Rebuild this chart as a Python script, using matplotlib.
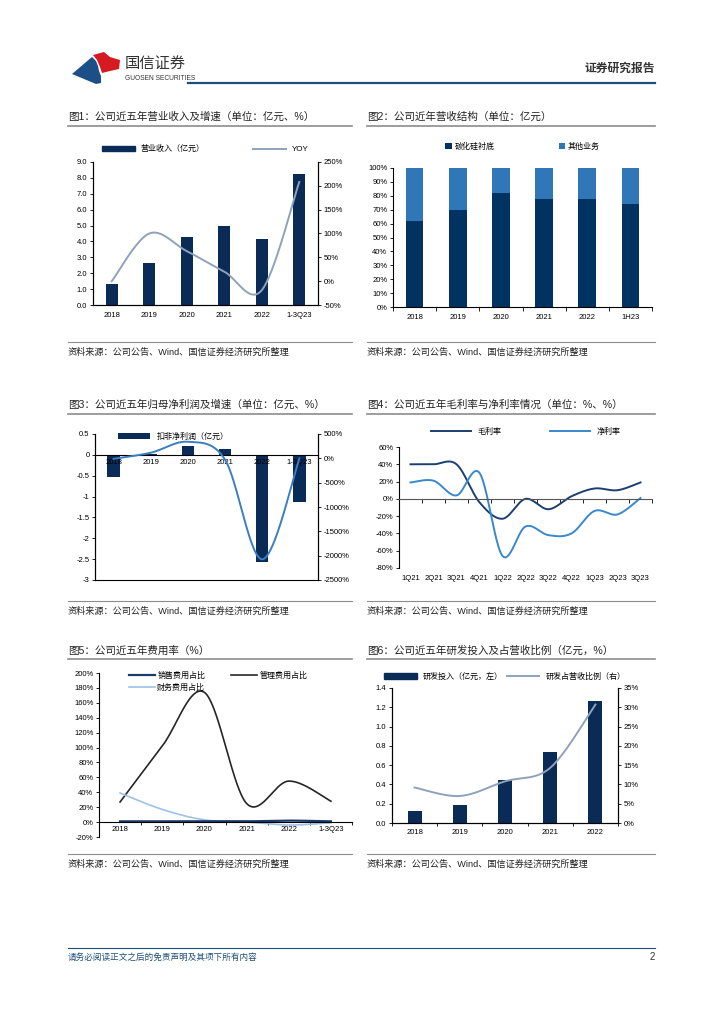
import matplotlib
matplotlib.use('Agg')
import matplotlib.pyplot as plt
import numpy as np
from matplotlib.lines import Line2D
from matplotlib.patches import Polygon, Patch
from matplotlib.ticker import FuncFormatter, MultipleLocator

plt.rcParams['font.family'] = ['Liberation Sans', 'Noto Sans CJK SC', 'DejaVu Sans']
plt.rcParams['axes.unicode_minus'] = False

## data read from the page
years = ['2018', '2019', '2020', '2021', '2022', '1-3Q23']
revenue = [1.35, 2.65, 4.25, 4.95, 4.15, 8.25]
revenue_yoy = [0, 100, 63, 20, -19, 208]

struct_years = ['2018', '2019', '2020', '2021', '2022', '1H23']
sic_share = [62, 69.5, 82, 78, 78, 74]
other_share = [38, 30.5, 18, 22, 22, 26]

profit = [-0.52, 0.03, 0.22, 0.13, -2.58, -1.13]
profit_yoy = [-10, 115, 340, -30, -2075, 0]

quarters = ['1Q21', '2Q21', '3Q21', '4Q21', '1Q22', '2Q22', '3Q22', '4Q22', '1Q23', '2Q23', '3Q23']
gross_margin = [40, 40, 40, -4, -23, 0, -12, 3, 12, 10, 19]
net_margin = [19, 21, 4, 30, -66, -32, -42, -40, -14, -18, 1]

sales_exp = [1, 1, 1, 1, 2, 1]
admin_exp = [27, 102, 174, 25, 55, 28]
fin_exp = [39, 17, 3, 0, -4, -1]

rd_years = ['2018', '2019', '2020', '2021', '2022']
rd_spend = [0.124, 0.19, 0.45, 0.736, 1.27]
rd_ratio = [9.2, 7.0, 10.8, 14.3, 30.7]

NAVY = '#0b2b57'
MID = '#3b7fc1'
GREYBLUE = '#8fa2bb'

W, H = 724, 1024
fig = plt.figure(figsize=(W / 100, H / 100), dpi=100)


def rect(x0, y0, x1, y1):
    return [x0 / W, 1 - y1 / H, (x1 - x0) / W, (y1 - y0) / H]


def hline(x0, x1, y, color, lw):
    fig.add_artist(Line2D([x0 / W, x1 / W], [1 - y / H, 1 - y / H], color=color, lw=lw))


def ftext(x, y, s, **kw):
    fig.text(x / W, 1 - y / H, s, va='center', **kw)


def smooth(xs, ys, n=40):
    # excel-like smoothed line (bezier through the points)
    x = np.asarray(xs, float)
    y = np.asarray(ys, float)
    px = np.concatenate([[x[0]], x, [x[-1]]])
    py = np.concatenate([[y[0]], y, [y[-1]]])
    t = np.linspace(0, 1, n)[:, None]
    pts = []
    for i in range(1, len(px) - 2):
        p0 = np.array([px[i - 1], py[i - 1]])
        p1 = np.array([px[i], py[i]])
        p2 = np.array([px[i + 1], py[i + 1]])
        p3 = np.array([px[i + 2], py[i + 2]])
        c1 = p1 + (p2 - p0) / 6
        c2 = p2 - (p3 - p1) / 6
        seg = ((1 - t) ** 3) * p1 + 3 * ((1 - t) ** 2) * t * c1 + 3 * (1 - t) * t ** 2 * c2 + t ** 3 * p2
        pts.append(seg)
    pts = np.vstack(pts)
    return pts[:, 0], pts[:, 1]


def style(ax, right=False):
    ax.spines['top'].set_visible(False)
    if not right:
        ax.spines['right'].set_visible(False)
    for s in ax.spines.values():
        s.set_linewidth(0.8)
    ax.tick_params(labelsize=5.5, length=2, width=0.6, pad=2)


pct = FuncFormatter(lambda v, p: '%d%%' % v)

# ---------------- header / footer ----------------
logo = fig.add_axes([0, 0, 1, 1], zorder=-1)
logo.set_xlim(0, W)
logo.set_ylim(H, 0)
logo.axis('off')
logo.add_patch(Polygon([(72, 74), (92, 57), (96, 61), (98, 66), (99, 71), (101, 76), (101, 83),
                        (96, 84), (84, 79)],
                       closed=True, color='#1c4f86', lw=0))
logo.add_patch(Polygon([(93, 55), (104, 52), (110, 57), (120, 60), (119, 69), (110, 71), (102, 73),
                        (100, 67), (97, 60)],
                       closed=True, color='#d61a22', lw=0))
ftext(125, 64, '国信证券', fontsize=11, color='#333333')
ftext(125, 78, 'GUOSEN SECURITIES', fontsize=4.8, color='#333333')
ftext(655, 69, '证券研究报告', fontsize=8.5, color='#333333', ha='right', fontweight='bold')
hline(188, 655, 83, '#1f4e79', 1.6)

hline(68, 655, 948, '#1f4e79', 0.8)
ftext(68, 957, '请务必阅读正文之后的免责声明及其项下所有内容', fontsize=6.2, color='#1f4e79', style='italic')
ftext(655, 957, '2', fontsize=7, color='#333333', ha='right')

titles = [
    (68, 117, '图1：公司近五年营业收入及增速（单位：亿元、%）'),
    (367, 117, '图2：公司近年营收结构（单位：亿元）'),
    (68, 405, '图3：公司近五年归母净利润及增速（单位：亿元、%）'),
    (367, 405, '图4：公司近五年毛利率与净利率情况（单位：%、%）'),
    (68, 651, '图5：公司近五年费用率（%）'),
    (367, 651, '图6：公司近五年研发投入及占营收比例（亿元，%）'),
]
for x, y, s in titles:
    ftext(x, y, s, fontsize=7.6, color='#222222')
for y in (126, 414, 659):
    hline(68, 352, y, '#8c8c8c', 1.2)
    hline(367, 655, y, '#8c8c8c', 1.2)
src = '资料来源：公司公告、Wind、国信证券经济研究所整理'
for yl, yt in ((342, 352), (601, 611), (854, 864)):
    hline(68, 352, yl, '#8c8c8c', 0.8)
    hline(367, 655, yl, '#8c8c8c', 0.8)
    ftext(68, yt, src, fontsize=6.6, color='#222222')
    ftext(367, yt, src, fontsize=6.6, color='#222222')

# ---------------- chart 1 ----------------
x = np.arange(len(years))
ax = fig.add_axes(rect(93, 162, 318, 305))
style(ax, right=True)
ax.bar(x, revenue, width=0.33, color=NAVY)
ax.set_xlim(-0.5, len(years) - 0.5)
ax.set_ylim(0, 9)
ax.yaxis.set_major_locator(MultipleLocator(1))
ax.yaxis.set_major_formatter(FuncFormatter(lambda v, p: '%.1f' % v))
ax.set_xticks(x)
ax.set_xticklabels(years)
ax.tick_params(axis='x', length=0, pad=5)
ax2 = ax.twinx()
style(ax2, right=True)
sx, sy = smooth(x, revenue_yoy)
ax2.plot(sx, sy, color=GREYBLUE, lw=1.4)
ax2.set_ylim(-50, 250)
ax2.yaxis.set_major_locator(MultipleLocator(50))
ax2.yaxis.set_major_formatter(pct)
ax.legend([Patch(color=NAVY), Line2D([], [], color=GREYBLUE, lw=1.4)], ['营业收入（亿元）', 'YOY'],
          loc='lower center', bbox_to_anchor=(0.5, 1.01), ncol=2, frameon=False, fontsize=5.8,
          handlelength=4, handleheight=0.7, columnspacing=6)

# ---------------- chart 2 ----------------
x = np.arange(len(struct_years))
ax = fig.add_axes(rect(393, 168, 652, 307))
style(ax)
ax.bar(x, sic_share, width=0.41, color='#003262', label='碳化硅衬底')
ax.bar(x, other_share, bottom=sic_share, width=0.41, color='#3077b8', label='其他业务')
ax.set_xlim(-0.5, len(struct_years) - 0.5)
ax.set_ylim(0, 100)
ax.yaxis.set_major_locator(MultipleLocator(10))
ax.yaxis.set_major_formatter(pct)
ax.set_xticks(x)
ax.set_xticklabels(struct_years)
ax.set_xticks(np.arange(len(struct_years) + 1) - 0.5, minor=True)
ax.tick_params(axis='x', which='major', length=0, pad=5)
ax.tick_params(axis='x', which='minor', length=3, width=0.6)
ax.legend(loc='lower center', bbox_to_anchor=(0.5, 1.07), ncol=2, frameon=False, fontsize=5.8,
          handlelength=0.8, handleheight=0.8, handletextpad=0.3, columnspacing=8)

# ---------------- chart 3 ----------------
x = np.arange(len(years))
ax = fig.add_axes(rect(95, 434, 318, 580))
style(ax, right=True)
ax.bar(x, profit, width=0.33, color=NAVY, label='扣非净利润（亿元）')
ax.set_xlim(-0.5, len(years) - 0.5)
ax.set_ylim(-3, 0.5)
ax.yaxis.set_major_locator(MultipleLocator(0.5))
ax.yaxis.set_major_formatter(FuncFormatter(lambda v, p: '%g' % v))
ax.spines['bottom'].set_position(('data', 0))
ax.set_xticks(x)
ax.set_xticklabels(years)
ax.tick_params(axis='x', length=0, pad=3)
ax2 = ax.twinx()
style(ax2, right=True)
sx, sy = smooth(x, profit_yoy)
ax2.plot(sx, sy, color=MID, lw=1.4)
ax2.set_ylim(-2500, 500)
ax2.yaxis.set_major_locator(MultipleLocator(500))
ax2.yaxis.set_major_formatter(pct)
ax.legend(loc='upper left', bbox_to_anchor=(0.07, 1.06), frameon=False, fontsize=5.8,
          handlelength=4, handleheight=0.7)

# ---------------- chart 4 ----------------
x = np.arange(len(quarters))
ax = fig.add_axes(rect(399, 447, 652, 568))
style(ax)
sx, sy = smooth(x, gross_margin)
ax.plot(sx, sy, color='#1c3f72', lw=1.4, label='毛利率')
sx, sy = smooth(x, net_margin)
ax.plot(sx, sy, color='#3a88cc', lw=1.4, label='净利率')
ax.set_xlim(-0.5, len(quarters) - 0.5)
ax.set_ylim(-80, 60)
ax.yaxis.set_major_locator(MultipleLocator(20))
ax.yaxis.set_major_formatter(pct)
ax.spines['bottom'].set_position(('data', 0))
ax.spines['bottom'].set_color('#555555')
ax.set_xticks(np.arange(len(quarters) + 1) - 0.5)
ax.set_xticklabels([])
ax.tick_params(axis='x', length=3, direction='out')
for i, q in enumerate(quarters):
    ax.text(i, -0.06, q, transform=ax.get_xaxis_transform(), ha='center', va='top', fontsize=5.5)
ax.legend(loc='lower center', bbox_to_anchor=(0.5, 1.03), ncol=2, frameon=False, fontsize=5.8,
          handlelength=5, columnspacing=6)

# ---------------- chart 5 ----------------
x = np.arange(len(years))
ax = fig.add_axes(rect(99, 673, 352, 837))
style(ax)
sx, sy = smooth(x, admin_exp)
l_admin, = ax.plot(sx, sy, color='#262626', lw=1.2)
sx, sy = smooth(x, fin_exp)
l_fin, = ax.plot(sx, sy, color='#9cc3e6', lw=1.2)
sx, sy = smooth(x, sales_exp)
l_sales, = ax.plot(sx, sy, color='#1c3a66', lw=1.6)
ax.set_xlim(-0.5, len(years) - 0.5)
ax.set_ylim(-20, 200)
ax.yaxis.set_major_locator(MultipleLocator(20))
ax.yaxis.set_major_formatter(pct)
ax.spines['bottom'].set_position(('data', 0))
ax.set_xticks(x)
ax.set_xticklabels(years)
ax.set_xticks(np.arange(len(years) + 1) - 0.5, minor=True)
ax.tick_params(axis='x', which='major', length=0, pad=3)
ax.tick_params(axis='x', which='minor', length=2, width=0.6)
ax.legend([l_sales, l_fin, l_admin], ['销售费用占比', '财务费用占比', '管理费用占比'],
          loc='upper left', bbox_to_anchor=(0.09, 1.05), ncol=2, frameon=False, fontsize=5.8,
          handlelength=3.2, handletextpad=0.3, columnspacing=3.2, labelspacing=0.4)

# ---------------- chart 6 ----------------
x = np.arange(len(rd_years))
ax = fig.add_axes(rect(392, 688, 618, 823))
style(ax, right=True)
ax.bar(x, rd_spend, width=0.31, color=NAVY)
ax.set_xlim(-0.5, len(rd_years) - 0.5)
ax.set_ylim(0, 1.4)
ax.yaxis.set_major_locator(MultipleLocator(0.2))
ax.yaxis.set_major_formatter(FuncFormatter(lambda v, p: '%.1f' % v))
ax.set_xticks(x)
ax.set_xticklabels(rd_years)
ax.set_xticks(np.arange(len(rd_years) + 1) - 0.5, minor=True)
ax.tick_params(axis='x', which='major', length=0, pad=4)
ax.tick_params(axis='x', which='minor', length=2, width=0.6)
ax2 = ax.twinx()
style(ax2, right=True)
sx, sy = smooth(x, rd_ratio)
ax2.plot(sx, sy, color=GREYBLUE, lw=1.4)
ax2.set_ylim(0, 35)
ax2.yaxis.set_major_locator(MultipleLocator(5))
ax2.yaxis.set_major_formatter(pct)
ax.legend([Patch(color=NAVY), Line2D([], [], color=GREYBLUE, lw=1.4)], ['研发投入（亿元，左）', '研发占营收比例（右）'],
          loc='lower center', bbox_to_anchor=(0.5, 1.0), ncol=2, frameon=False, fontsize=5.8,
          handlelength=4, handleheight=0.7, columnspacing=0.5)

fig.savefig('out.png', dpi=100)
